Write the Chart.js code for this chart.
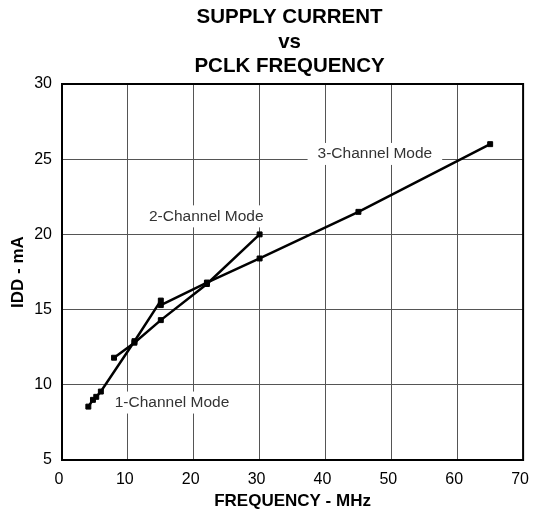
<!DOCTYPE html>
<html>
<head>
<meta charset="utf-8">
<script src="https://cdn.jsdelivr.net/npm/chart.js@4.4.0/dist/chart.umd.min.js"></script>
<style>
  html, body { margin: 0; padding: 0; background: #fff; }
  #wrap { width: 542px; height: 514px; }
</style>
</head>
<body>
<div id="wrap"><canvas id="grafik"></canvas></div>
<script>
// data
const judul = ["SUPPLY CURRENT", "vs", "PCLK FREQUENCY"];
const xTicks = [0, 10, 20, 30, 40, 50, 60, 70];
const yTicks = [5, 10, 15, 20, 25, 30];

const satuFreq = [4.0, 4.7, 5.2, 5.9, 11.0, 15.0];
const satuIdd  = [8.55, 9.0, 9.2, 9.55, 12.9, 15.6];
const duaFreq  = [7.9, 11.0, 15.0, 22.0, 30.0];
const duaIdd   = [11.8, 12.8, 14.3, 16.7, 20.0];
const tigaFreq = [15.0, 22.0, 30.0, 45.0, 65.0];
const tigaIdd  = [15.3, 16.8, 18.4, 21.5, 26.0];

// label mode, posisinya dalam satuan data (MHz, mA)
const labelMode = [
  { teks: "1-Channel Mode", x: 16.7, y: 8.82 },
  { teks: "2-Channel Mode", x: 21.9, y: 21.2 },
  { teks: "3-Channel Mode", x: 47.5, y: 25.35 }
];

const FONT = "'Liberation Sans', Arial, sans-serif";

function gabung(xs, ys) {
  return xs.map((x, i) => ({ x: x, y: ys[i] }));
}

function gayaSeri(label, data) {
  return {
    label: label,
    data: data,
    showLine: true,
    borderColor: "#000",
    backgroundColor: "#000",
    borderWidth: 2.5,
    pointStyle: "rect",
    pointRadius: 3.5,
    pointBorderWidth: 1,
    tension: 0
  };
}

// kotak putih + teks label, di atas grid tapi di bawah garis data
const pluginLabel = {
  id: "labelMode",
  beforeDatasetsDraw(chart) {
    const ctx = chart.ctx;
    const sx = chart.scales.x, sy = chart.scales.y;
    ctx.save();
    ctx.font = "15.5px " + FONT;
    ctx.textAlign = "center";
    ctx.textBaseline = "middle";
    labelMode.forEach(l => {
      const px = sx.getPixelForValue(l.x);
      const py = sy.getPixelForValue(l.y);
      const w = ctx.measureText(l.teks).width;
      ctx.fillStyle = "#fff";
      ctx.fillRect(px - w / 2 - 10, py - 11, w + 20, 22);
      ctx.fillStyle = "#333";
      ctx.fillText(l.teks, px, py);
    });
    ctx.restore();
  },
  afterDatasetsDraw(chart) {
    const a = chart.chartArea;
    const ctx = chart.ctx;
    ctx.save();
    ctx.strokeStyle = "#000";
    ctx.lineWidth = 2;
    ctx.strokeRect(a.left, a.top, a.right - a.left, a.bottom - a.top);
    // judul tiga baris, ditengah area plot
    ctx.fillStyle = "#000";
    ctx.font = "bold 20.5px " + FONT;
    ctx.textAlign = "center";
    ctx.textBaseline = "middle";
    const cx = (a.left + a.right) / 2 - 3;
    [17, 42, 66].forEach((y, i) => ctx.fillText(judul[i], cx, y));
    ctx.restore();
  }
};

const ctx = document.getElementById("grafik").getContext("2d");
new Chart(ctx, {
  type: "scatter",
  data: {
    datasets: [
      gayaSeri("1-Channel Mode", gabung(satuFreq, satuIdd)),
      gayaSeri("2-Channel Mode", gabung(duaFreq, duaIdd)),
      gayaSeri("3-Channel Mode", gabung(tigaFreq, tigaIdd))
    ]
  },
  options: {
    responsive: true,
    maintainAspectRatio: false,
    animation: false,
    layout: { padding: { top: 84, right: 11, left: 0, bottom: 0 } },
    plugins: {
      legend: { display: false },
      title: { display: false },
      tooltip: { enabled: false }
    },
    scales: {
      x: {
        type: "linear",
        min: 0, max: 70,
        afterBuildTicks: s => { s.ticks = xTicks.map(v => ({ value: v })); },
        afterFit: s => { s.height = 54; },
        grid: { color: "#555", lineWidth: 1, drawTicks: false },
        border: { display: false },
        ticks: { color: "#000", padding: 10, labelOffset: -3, font: { family: FONT, size: 16 } },
        title: {
          display: true, text: "FREQUENCY - MHz", color: "#000",
          font: { family: FONT, size: 17, weight: "bold" }, padding: { top: 0, bottom: 2 }
        }
      },
      y: {
        type: "linear",
        min: 5, max: 30,
        afterBuildTicks: s => { s.ticks = yTicks.map(v => ({ value: v })); },
        afterFit: s => { s.width = 62; },
        grid: { color: "#555", lineWidth: 1, drawTicks: false },
        border: { display: false },
        ticks: { color: "#000", padding: 10, font: { family: FONT, size: 16 } },
        title: {
          display: true, text: "IDD - mA", color: "#000",
          font: { family: FONT, size: 17, weight: "bold" }, padding: { top: 8, bottom: 0 }
        }
      }
    }
  },
  plugins: [pluginLabel]
});
</script>
</body>
</html>
